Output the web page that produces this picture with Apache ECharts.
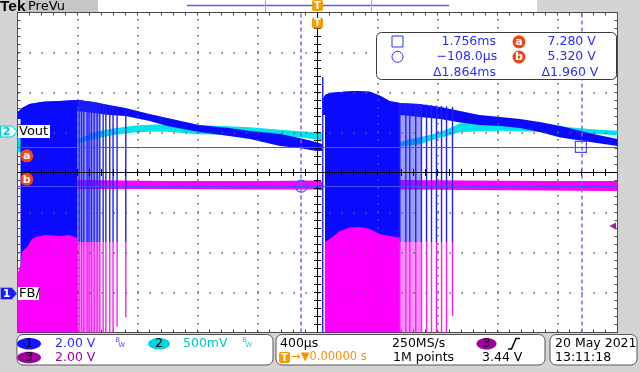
<!DOCTYPE html>
<html><head><meta charset="utf-8">
<script src="https://cdn.jsdelivr.net/npm/echarts@6/dist/echarts.min.js"></script>
<style>html,body{margin:0;padding:0;background:#d4d4d4;}#c{width:640px;height:372px;}</style>
</head><body><div id="c"></div>
<script>
// ===================== DATA =====================
// Horizontal: time in ms (400 µs/div, 10 div, trigger at 0)
const T_MIN = -2, T_MAX = 2, T_DIV = 0.4;
// Ch1 / Ch3: volts, 2.00 V/div, ground 3 div below centre
const CH1_MIN = -2, CH1_MAX = 14, CH1_DIV = 2;
// Ch2 (Vout): mV, 500 mV/div
const CH2_MIN = -2500, CH2_MAX = 1500, CH2_DIV = 500;

// Ch1 (FB, blue) envelope – first cycle
const ch1A_t  = [-2.0,-1.97,-1.92,-1.83,-1.72,-1.6,-1.49,-1.39,-1.28,-1.12,-1.0,-0.79,-0.59,-0.45,-0.25,-0.12,-0.01,0.03];
const ch1A_hi = [9.02,9.22,9.42,9.54,9.57,9.63,9.52,9.37,9.22,8.92,8.72,8.37,8.22,8.07,7.92,7.72,7.52,7.42];
const ch1A_lo = [8.67,8.67,8.77,8.87,8.97,9.07,8.97,8.87,8.82,8.57,8.32,8.02,7.82,7.67,7.33,7.22,7.07,7.07];
// Ch1 envelope – second cycle
const ch1B_t  = [0.035,0.05,0.08,0.15,0.25,0.35,0.42,0.48,0.55,0.68,0.82,0.95,1.08,1.22,1.35,1.48,1.62,1.84,2.0];
const ch1B_hi = [9.67,9.87,9.97,10.02,10.07,10.04,9.82,9.57,9.47,9.42,9.27,9.07,8.87,8.77,8.67,8.52,8.33,7.92,7.67];
const ch1B_lo = [8.87,8.87,8.87,8.87,8.87,8.87,8.87,8.87,8.87,8.77,8.67,8.50,8.37,8.32,8.22,8.02,7.75,7.50,7.32];
// Ch1 switching bursts (solid, ms start/end)
const ch1BurstStart = [-1.98, 0.05];
const ch1BurstEnd   = [-1.60, 0.55];
// Dense pulse zones (ms start/end)
const pulseZoneStart = [-1.60, 0.549];
const pulseZoneEnd   = [-1.451, 0.69];
// Individual pulses after each burst
const pulseT      = [-1.589,-1.573,-1.558,-1.536,-1.523,-1.507,-1.489,-1.469,-1.451,-1.429,-1.411,-1.385,-1.363,-1.336,-1.278,
                     0.549,0.589,0.615,0.655,0.693,0.727,0.760,0.793,0.827,0.860,0.900];
const pulseTop    = [9.63,9.64,9.60,9.58,9.56,9.54,9.52,9.50,9.47,9.43,9.40,9.37,9.33,9.30,9.22,
                     9.47,9.46,9.45,9.44,9.42,9.40,9.38,9.35,9.33,9.31,9.28];
const pulseSplit  = 2.52;   // where the blue part meets the magenta part (V)
const pulseBottom = [-2,-2,-2,-2,-2,-2,-2,-2,-2,-2,-2,-2,-2,-1.7,-1.24,
                     -2,-2,-2,-2,-2,-2,-2,-2,-2,-2,-1.17];
// Spike at the start of the second burst
const spikeT = [0.035], spikeTop = [10.77], spikeBottom = [-2];

// Ch3 (magenta) flat level between bursts
const ch3A_t = [-1.6,-1.0,-0.4,0.0,0.03], ch3A_hi = [5.62,5.58,5.58,5.60,5.55], ch3A_lo = [5.17,5.17,5.15,5.15,5.10];
const ch3B_t = [0.55,1.0,1.5,2.0],        ch3B_hi = [5.62,5.60,5.58,5.58],       ch3B_lo = [5.15,5.12,5.10,5.08];
// Ch3 burst upper envelope (filled down to screen bottom)
const ch3BurstA_t  = [-2.0,-1.978,-1.971,-1.951,-1.931,-1.905,-1.878,-1.818,-1.718,-1.651,-1.6];
const ch3BurstA_hi = [0.92,1.42,2.02,2.17,2.33,2.67,2.77,2.87,2.83,2.87,2.72];
const ch3BurstB_t  = [0.049,0.082,0.149,0.215,0.282,0.349,0.415,0.482,0.549];
const ch3BurstB_hi = [2.52,2.67,3.08,3.25,3.27,3.17,2.92,2.82,2.75];

// Ch2 (Vout, cyan) envelope, mV
const ch2E_t = [-2.0,-1.975], ch2E_hi = [-46,-46], ch2E_lo = [-246,-246];
const ch2A_t  = [-1.6,-1.52,-1.45,-1.35,-1.23,-1.12,-1.0,-0.79,-0.59,-0.45,-0.25,-0.12,-0.01,0.03];
const ch2A_hi = [-84,-21,20,54,83,98,104,91,79,66,33,16,4,-9];
const ch2A_lo = [-134,-96,-63,-28,0,10,8,-21,-28,-34,-43,-59,-84,-109];
const ch2B_t  = [0.549,0.615,0.682,0.782,0.882,0.949,1.082,1.215,1.349,1.482,1.615,1.749,1.882,2.0];
const ch2B_hi = [-121,-84,-59,-15,54,116,116,116,104,91,79,54,35,23];
const ch2B_lo = [-171,-159,-146,-84,-34,4,16,23,16,10,4,-9,-21,-34];

// Cursors
const cursorTimesMs = [1.756, -0.108];
const cursorVolts   = [7.280, 5.320];

// ===================== COLOURS =====================
const C_BLUE = '#0a0aff', C_BLUE_TXT = '#2c2cff', C_CYAN = '#00e4ec', C_CYAN_TXT = '#00c4cc',
      C_MAG = '#ff00ff', C_PUR = '#a000a0', C_ORANGE = '#f59c00', C_CURSOR = '#6a6aff', C_BADGE = '#ec4814';

// ===================== HELPERS =====================
function interp(ts, vs, t) {
  if (t <= ts[0]) return vs[0];
  for (let i = 1; i < ts.length; i++) if (t <= ts[i]) {
    const f = (t - ts[i-1]) / (ts[i] - ts[i-1]); return vs[i-1] + f * (vs[i] - vs[i-1]);
  }
  return vs[vs.length-1];
}
function windowTop(ts, vs, t0, t1) {
  const pts = [[t0, interp(ts, vs, t0)]];
  for (let i = 0; i < ts.length; i++) if (ts[i] > t0 && ts[i] < t1) pts.push([ts[i], vs[i]]);
  pts.push([t1, interp(ts, vs, t1)]);
  return pts;
}
function polySeries(upper, lower, color, yIdx, z) {
  return {
    type: 'custom', xAxisIndex: 0, yAxisIndex: yIdx, z: z, clip: true, silent: true, animation: false,
    data: [[upper[0][0], upper[0][1]]],
    renderItem: function (p, api) {
      const pts = upper.map(q => api.coord(q));
      for (let i = lower.length - 1; i >= 0; i--) pts.push(api.coord(lower[i]));
      return { type: 'polygon', shape: { points: pts }, style: { fill: color } };
    }
  };
}
function band(ts, hi, lo, color, yIdx, z) {
  return polySeries(ts.map((t, i) => [t, hi[i]]), ts.map((t, i) => [t, lo[i]]), color, yIdx, z);
}
function toFloor(pts, v) { return [[pts[0][0], v], [pts[pts.length-1][0], v]]; }
function linesSeries(items, color, w, z) {
  return {
    type: 'custom', xAxisIndex: 0, yAxisIndex: 0, z: z, clip: true, silent: true, animation: false,
    data: items,
    renderItem: function (p, api) {
      const a = api.coord([api.value(0), api.value(1)]), b = api.coord([api.value(0), api.value(2)]);
      return { type: 'rect', shape: { x: a[0] - w / 2, y: a[1], width: w, height: b[1] - a[1] }, style: { fill: color } };
    }
  };
}

// ===================== SERIES =====================
const series = [];
// Ch2 cyan
series.push(band(ch2E_t, ch2E_hi, ch2E_lo, C_CYAN, 1, 2));
series.push(band(ch2A_t, ch2A_hi, ch2A_lo, C_CYAN, 1, 2));
series.push(band(ch2B_t, ch2B_hi, ch2B_lo, C_CYAN, 1, 2));
// Ch3 flat level
series.push(band(ch3A_t, ch3A_hi, ch3A_lo, C_MAG, 0, 3));
series.push(band(ch3B_t, ch3B_hi, ch3B_lo, C_MAG, 0, 3));
// Ch1 envelope
series.push(band(ch1A_t, ch1A_hi, ch1A_lo, C_BLUE, 0, 4));
series.push(band(ch1B_t, ch1B_hi, ch1B_lo, C_BLUE, 0, 4));
// Ch1 solid bursts
const ch1Bands = [[ch1A_t, ch1A_hi], [ch1B_t, ch1B_hi]];
for (let k = 0; k < ch1BurstStart.length; k++) {
  const top = windowTop(ch1Bands[k][0], ch1Bands[k][1], ch1BurstStart[k], ch1BurstEnd[k]);
  series.push(polySeries(top, toFloor(top, CH1_MIN), C_BLUE, 0, 4));
}
// Dense pulse zones (washes)
for (let k = 0; k < pulseZoneStart.length; k++) {
  const top = windowTop(ch1Bands[k][0], ch1Bands[k][1], pulseZoneStart[k], pulseZoneEnd[k]);
  series.push(polySeries(top, toFloor(top, pulseSplit), 'rgba(40,40,255,0.45)', 0, 5));
  const mid = [[pulseZoneStart[k], pulseSplit], [pulseZoneEnd[k], pulseSplit]];
  series.push(polySeries(mid, toFloor(mid, CH1_MIN), 'rgba(255,0,255,0.42)', 0, 6));
}
// Pulses
series.push(linesSeries(pulseT.map((t, i) => [t, pulseTop[i], pulseSplit]), '#1e1eff', 1.4, 5));
series.push(linesSeries(spikeT.map((t, i) => [t, spikeTop[i], spikeBottom[i]]), '#1e1eff', 1.4, 5));
// Ch3 bursts
const b3A = ch3BurstA_t.map((t, i) => [t, ch3BurstA_hi[i]]);
const b3B = ch3BurstB_t.map((t, i) => [t, ch3BurstB_hi[i]]);
series.push(polySeries(b3A, toFloor(b3A, CH1_MIN), C_MAG, 0, 6));
series.push(polySeries(b3B, toFloor(b3B, CH1_MIN), C_MAG, 0, 6));
series.push(linesSeries(pulseT.map((t, i) => [t, pulseSplit, pulseBottom[i]]), '#ff1aff', 1.4, 7));

// Graticule: dotted division lines, centre cross and its minor ticks, as mark lines on axis values
const T_MID = (T_MIN + T_MAX) / 2, V_MID = (CH1_MIN + CH1_MAX) / 2;
const N_X = Math.round((T_MAX - T_MIN) / T_DIV), N_Y = Math.round((CH1_MAX - CH1_MIN) / CH1_DIV);
const PX_T = (T_MAX - T_MIN) / 600, PX_V = (CH1_MAX - CH1_MIN) / 320;   // axis units per screen pixel
const GRID_STYLE = { color: '#5e5e5e', width: 1.5 };
const BLACK = { color: '#000', type: 'solid', width: 1 };
const gratLines = [];
for (let i = 1; i < N_X; i++) {
  const v = +(T_MIN + i * T_DIV).toFixed(6);
  if (v !== T_MID) gratLines.push({ xAxis: v, lineStyle: Object.assign({ type: [1.5, 6.5] }, GRID_STYLE) });
}
for (let j = 1; j < N_Y; j++) {
  const v = +(CH1_MIN + j * CH1_DIV).toFixed(6);
  if (v !== V_MID) gratLines.push({ yAxis: v, lineStyle: Object.assign({ type: [1.5, 10.5] }, GRID_STYLE) });
}
gratLines.push({ xAxis: T_MID, lineStyle: BLACK }, { yAxis: V_MID, lineStyle: BLACK });
for (let i = 1; i < N_X * 5; i++) {
  const t = +(T_MIN + i * T_DIV / 5).toFixed(6);
  gratLines.push([{ coord: [t, V_MID - 3.5 * PX_V], lineStyle: BLACK }, { coord: [t, V_MID + 3.5 * PX_V] }]);
}
for (let j = 1; j < N_Y * 5; j++) {
  const v = +(CH1_MIN + j * CH1_DIV / 5).toFixed(6);
  gratLines.push([{ coord: [T_MID - 3.5 * PX_T, v], lineStyle: BLACK }, { coord: [T_MID + 3.5 * PX_T, v] }]);
}
series.push({
  type: 'line', xAxisIndex: 0, yAxisIndex: 0, data: [], z: 8, silent: true, animation: false,
  markLine: { z: 8, silent: true, symbol: ['none', 'none'], animation: false, label: { show: false }, data: gratLines }
});

// Cursors
series.push({
  type: 'line', xAxisIndex: 0, yAxisIndex: 0, data: [], z: 10, silent: true, animation: false,
  markLine: {
    z: 10, silent: true, symbol: ['none', 'none'], animation: false, label: { show: false },
    data: [
      { xAxis: cursorTimesMs[0], lineStyle: { color: C_CURSOR, type: [4, 3], width: 1.5 } },
      { xAxis: cursorTimesMs[1], lineStyle: { color: C_CURSOR, type: [4, 3], width: 1.5 } },
      { yAxis: cursorVolts[0], lineStyle: { color: '#4d4dff', type: 'solid', width: 1 } },
      { yAxis: cursorVolts[1], lineStyle: { color: '#4d4dff', type: 'solid', width: 1 } }
    ]
  },
  markPoint: {
    z: 10, silent: true, animation: false, label: { show: false },
    data: [
      { coord: [cursorTimesMs[0], cursorVolts[0]], symbol: 'rect', symbolSize: 11,
        itemStyle: { color: 'rgba(0,0,0,0)', borderColor: '#4d4dff', borderWidth: 1.2 } },
      { coord: [cursorTimesMs[1], cursorVolts[1]], symbol: 'circle', symbolSize: 12,
        itemStyle: { color: 'rgba(0,0,0,0)', borderColor: '#4d4dff', borderWidth: 1.2 } }
    ]
  }
});

// ===================== AXES (frame with inside ticks) =====================
const noLbl = { show: false };
function frameAxis(extra) {
  return Object.assign({ gridIndex: 0, type: 'value',
    axisLine: { show: true, onZero: false, lineStyle: { color: '#4a4a4a', width: 1 } },
    axisTick: { show: true, inside: true, length: 3, lineStyle: { color: '#4a4a4a' } },
    minorTick: { show: true, splitNumber: 5, length: 3, lineStyle: { color: '#4a4a4a' } },
    axisLabel: noLbl, splitLine: { show: false }, minorSplitLine: { show: false } }, extra);
}

// ===================== DECORATION (scope UI) =====================
const FONT = '"DejaVu Sans"';
function txt(x, y, s, color, size, extra) {
  return Object.assign({ type: 'text', x: x, y: y, z: 100, silent: true,
    style: { text: s, fill: color, font: size + 'px ' + FONT, align: 'left', verticalAlign: 'middle',
             textAlign: 'left', textVerticalAlign: 'middle' } }, extra || {});
}
function ctxt(x, y, s, color, font) {
  return { type: 'text', x: x, y: y, z: 101, silent: true,
    style: { text: s, fill: color, font: font, align: 'center', verticalAlign: 'middle', textAlign: 'center', textVerticalAlign: 'middle' } };
}
function rect(x, y, w, h, fill, stroke, r) {
  return { type: 'rect', z: 100, silent: true, shape: { x: x, y: y, width: w, height: h, r: r || 0 },
    style: { fill: fill, stroke: stroke || null, lineWidth: 1 } };
}
function badge(cx, cy, letter) {
  return [{ type: 'circle', z: 100, silent: true, shape: { cx: cx, cy: cy, r: 6.5 }, style: { fill: C_BADGE } },
          ctxt(cx, cy + 0.5, letter, '#fff', 'bold 11px ' + FONT)];
}
function ellipse(cx, cy, rx, color, label) {
  return [{ type: 'ellipse', z: 100, silent: true, shape: { cx: cx, cy: cy, rx: rx, ry: 5.8 }, style: { fill: color } },
          ctxt(cx, cy + 0.5, label, '#000', '12px ' + FONT)];
}
function tTag(x, y) {
  return [rect(x, y, 11, 11, C_ORANGE, null, 2), ctxt(x + 5.5, y + 6, 'T', '#fff', 'bold 10px ' + FONT)];
}
const dT = (cursorTimesMs[0] - cursorTimesMs[1]).toFixed(3);
const dV = (cursorVolts[0] - cursorVolts[1]).toFixed(3);
const R = 12.5;
const deco = [].concat(
  // top bar
  [rect(25, 0, 73, 12, '#c6c6c6'), rect(98, 0, 439, 12, '#ffffff'),
   { type: 'line', z: 100, silent: true, shape: { x1: 187, y1: 5.5, x2: 449, y2: 5.5 }, style: { stroke: '#5a5aff', lineWidth: 1.5 } },
   { type: 'line', z: 100, silent: true, shape: { x1: 265.5, y1: 0, x2: 265.5, y2: 12 }, style: { stroke: '#aaaaaa', lineWidth: 1 } },
   { type: 'line', z: 100, silent: true, shape: { x1: 371.5, y1: 0, x2: 371.5, y2: 12 }, style: { stroke: '#aaaaaa', lineWidth: 1 } },
   txt(0, 7, 'Tek', '#000', 15, { style: { text: 'Tek', fill: '#000', font: 'bold 15.5px "Liberation Sans"', align: 'left', verticalAlign: 'middle', textAlign: 'left', textVerticalAlign: 'middle' } }),
   txt(28, 6.5, 'PreVu', '#000', 13)],
  tTag(312, 0), tTag(312, 17.5),
  // cursor readout box
  [rect(376.5, 32.5, 240, 47, '#ffffff', '#3a3a3a', 5),
   rect(392, 36, 11, 11, null, C_BLUE_TXT),
   { type: 'circle', z: 100, silent: true, shape: { cx: 397.5, cy: 56.8, r: 5.5 }, style: { fill: null, stroke: C_BLUE_TXT, lineWidth: 1 } },
   txt(441.5, 41.5, cursorTimesMs[0].toFixed(3) + 'ms', C_BLUE_TXT, R),
   txt(436.5, 57, '\u2212' + (Math.abs(cursorTimesMs[1]) * 1000).toFixed(1) + '\u00b5s', C_BLUE_TXT, R),
   txt(433, 72.5, '\u0394' + dT + 'ms', C_BLUE_TXT, R),
   txt(547.5, 41.5, cursorVolts[0].toFixed(3) + ' V', C_BLUE_TXT, R),
   txt(547.5, 57, cursorVolts[1].toFixed(3) + ' V', C_BLUE_TXT, R),
   txt(541.5, 72.5, '\u0394' + dV + ' V', C_BLUE_TXT, R)],
  badge(519, 41.8, 'a'), badge(519, 57, 'b'),
  // left channel markers
  [{ type: 'polygon', z: 100, silent: true, shape: { points: [[0.5, 126], [12, 126], [17, 131.5], [12, 137], [0.5, 137]] }, style: { fill: '#eaffff', stroke: '#00c8d0', lineWidth: 1 } },
   ctxt(6.5, 131.8, '2', C_CYAN_TXT, 'bold 11px ' + FONT),
   rect(18, 125, 32, 13, '#ffffff'), txt(19, 131.5, 'Vout', '#000', 13),
   { type: 'polygon', z: 100, silent: true, shape: { points: [[0.5, 287.5], [12, 287.5], [17, 293.5], [12, 299.5], [0.5, 299.5]] }, style: { fill: '#1a1aff', stroke: '#9a9aff', lineWidth: 1 } },
   ctxt(6.5, 293.8, '1', '#fff', 'bold 11px ' + FONT),
   rect(18, 287, 21, 13, '#ffffff'), txt(19, 293.5, 'FB/', '#000', 13),
   { type: 'polygon', z: 100, silent: true, shape: { points: [[609.5, 226], [616, 222.5], [616, 229.5]] }, style: { fill: '#9b1fa0' } }],
  badge(26.8, 155.8, 'a'), badge(26.8, 179.3, 'b'),
  // bottom status boxes
  [rect(17, 334.5, 256, 30.5, '#ffffff', '#555555', 6),
   rect(276, 334.5, 269, 30.5, '#ffffff', '#555555', 6),
   rect(550, 334.5, 87, 30.5, '#ffffff', '#555555', 6)],
  ellipse(29, 343.8, 12, '#1414ff', '1'), ellipse(159, 343.8, 11, '#00d4dc', '2'), ellipse(29, 357.5, 12, C_PUR, '3'),
  [txt(55, 344, CH1_DIV.toFixed(2) + ' V', C_BLUE_TXT, R),
   txt(115.5, 340.5, 'B', '#4a4aff', 6.5), txt(118.5, 345, 'W', '#4a4aff', 6.5),
   txt(183, 344, CH2_DIV + 'mV', C_CYAN_TXT, R),
   txt(242.5, 340.5, 'B', '#30c0c8', 6.5), txt(245.5, 345, 'W', '#30c0c8', 6.5),
   txt(55, 357.5, CH1_DIV.toFixed(2) + ' V', C_PUR, R),
   txt(280, 344, (T_DIV * 1000) + '\u00b5s', '#000', R),
   txt(291, 357.5, '\u2192\u25bc0.00000 s', '#ff9000', 11.5),
   txt(392, 344, '250MS/s', '#000', R),
   txt(393, 357.5, '1M points', '#000', R),
   txt(482, 357.5, '3.44 V', '#000', R),
   { type: 'polyline', z: 100, silent: true, shape: { points: [[508, 349], [511.5, 349], [516, 338.5], [520, 338.5]] }, style: { stroke: '#000', lineWidth: 1.5, fill: null } },
   txt(555, 344, '20 May 2021', '#000', R),
   txt(555, 357.5, '13:11:18', '#000', R)],
  tTag(279, 352),
  ellipse(486.5, 343.8, 10, C_PUR, '3')
);

// ===================== CHART =====================
const chart = echarts.init(document.getElementById('c'), null, { renderer: 'canvas' });
chart.setOption({
  animation: false,
  backgroundColor: '#d4d4d4',
  grid: [{ left: 17.5, top: 12.5, width: 600, height: 320, show: true, backgroundColor: '#ffffff', borderWidth: 0, outerBoundsMode: 'none' }],
  xAxis: [
    frameAxis({ min: T_MIN, max: T_MAX, interval: T_DIV, position: 'bottom' }),
    frameAxis({ min: T_MIN, max: T_MAX, interval: T_DIV, position: 'top' })
  ],
  yAxis: [
    frameAxis({ min: CH1_MIN, max: CH1_MAX, interval: CH1_DIV, position: 'left' }),
    frameAxis({ min: CH2_MIN, max: CH2_MAX, interval: CH2_DIV, position: 'right' })
  ],
  series: series,
  graphic: { elements: deco }
});
</script></body></html>
